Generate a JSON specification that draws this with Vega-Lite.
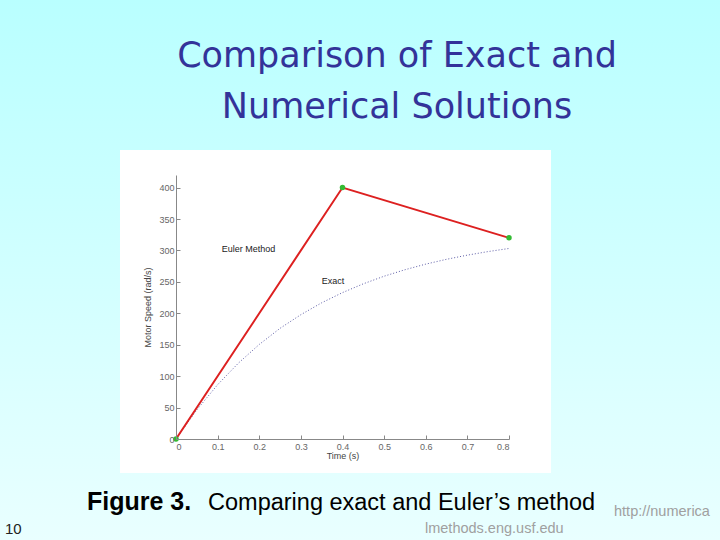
{
  "$schema": "https://vega.github.io/schema/vega-lite/v6.json",
  "width": 333,
  "height": 264,
  "autosize": "none",
  "padding": {"left": 176, "top": 175, "right": 211, "bottom": 101},
  "background": "#d8ffff",
  "config": {"view": {"stroke": null}},
  "datasets": {
    "one": [{}],
    "euler": [
      {"t": 0, "speed": 0},
      {"t": 0.4, "speed": 400},
      {"t": 0.8, "speed": 320}
    ],
    "exact": [
      {"t": 0, "speed": 0},
      {"t": 0.05, "speed": 46.4},
      {"t": 0.1, "speed": 86.4},
      {"t": 0.15, "speed": 120.8},
      {"t": 0.2, "speed": 150.4},
      {"t": 0.25, "speed": 176.1},
      {"t": 0.3, "speed": 197.8},
      {"t": 0.35, "speed": 216.7},
      {"t": 0.4, "speed": 232.9},
      {"t": 0.45, "speed": 246.9},
      {"t": 0.5, "speed": 259.0},
      {"t": 0.55, "speed": 269.3},
      {"t": 0.6, "speed": 278.2},
      {"t": 0.65, "speed": 285.9},
      {"t": 0.7, "speed": 292.5},
      {"t": 0.75, "speed": 298.2},
      {"t": 0.8, "speed": 303.1}
    ]
  },
  "data": {"name": "one"},
  "layer": [
    {
      "mark": {
        "type": "rect",
        "color": {
          "gradient": "linear",
          "x1": 0, "y1": 0, "x2": 0, "y2": 1,
          "stops": [
            {"offset": 0, "color": "#b9ffff"},
            {"offset": 1, "color": "#e9ffff"}
          ]
        }
      },
      "encoding": {
        "x": {
          "datum": -0.4228, "type": "quantitative",
          "scale": {"domain": [0, 0.8], "nice": false, "zero": false},
          "axis": {
            "values": [0, 0.1, 0.2, 0.3, 0.4, 0.5, 0.6, 0.7, 0.8],
            "format": "~g",
            "title": "Time (s)",
            "grid": false,
            "zindex": 1,
            "labelOverlap": false,
            "domainColor": "#888888",
            "tickColor": "#888888",
            "tickSize": -4,
            "labelPadding": 7,
            "labelColor": "#666666",
            "labelFont": "Liberation Sans",
            "labelFontSize": 9,
            "titleFont": "Liberation Sans",
            "titleFontSize": 9,
            "titleFontWeight": "normal",
            "titleColor": "#444444",
            "titlePadding": 0
          }
        },
        "x2": {"datum": 1.3069},
        "y": {
          "datum": 698.4, "type": "quantitative",
          "scale": {"domain": [0, 420], "nice": false},
          "axis": {
            "values": [0, 50, 100, 150, 200, 250, 300, 350, 400],
            "tickCount": 9,
            "title": "Motor Speed (rad/s)",
            "grid": false,
            "zindex": 1,
            "labelOverlap": false,
            "domainColor": "#888888",
            "tickColor": "#888888",
            "tickSize": -4,
            "labelPadding": 6,
            "labelColor": "#666666",
            "labelFont": "Liberation Sans",
            "labelFontSize": 9,
            "titleFont": "Liberation Sans",
            "titleFontSize": 9,
            "titleFontWeight": "normal",
            "titleColor": "#444444",
            "titlePadding": 6
          }
        },
        "y2": {"datum": -160.7}
      }
    },
    {
      "mark": {"type": "rect", "color": "#ffffff"},
      "encoding": {
        "x": {"datum": -0.1345, "type": "quantitative"},
        "x2": {"datum": 0.9009},
        "y": {"datum": 459.8, "type": "quantitative"},
        "y2": {"datum": -54.1}
      }
    },
    {
      "data": {"name": "exact"},
      "mark": {"type": "line", "color": "#5c5ca6", "strokeWidth": 1, "strokeDash": [1, 2]},
      "encoding": {
        "x": {"field": "t", "type": "quantitative"},
        "y": {"field": "speed", "type": "quantitative"}
      }
    },
    {
      "data": {"name": "euler"},
      "mark": {"type": "line", "color": "#dd2020", "strokeWidth": 2},
      "encoding": {
        "x": {"field": "t", "type": "quantitative"},
        "y": {"field": "speed", "type": "quantitative"}
      }
    },
    {
      "data": {"name": "euler"},
      "mark": {"type": "point", "filled": true, "shape": "circle", "size": 30, "color": "#33bb33", "opacity": 1},
      "encoding": {
        "x": {"field": "t", "type": "quantitative"},
        "y": {"field": "speed", "type": "quantitative"}
      }
    },
    {
      "mark": {"type": "text", "text": "Euler Method", "align": "left", "baseline": "middle", "font": "Liberation Sans", "fontSize": 9, "color": "#222222"},
      "encoding": {
        "x": {"datum": 0.11, "type": "quantitative"},
        "y": {"datum": 302, "type": "quantitative"}
      }
    },
    {
      "mark": {"type": "text", "text": "Exact", "align": "left", "baseline": "middle", "font": "Liberation Sans", "fontSize": 9, "color": "#222222"},
      "encoding": {
        "x": {"datum": 0.35, "type": "quantitative"},
        "y": {"datum": 251, "type": "quantitative"}
      }
    },
    {
      "mark": {"type": "text", "text": "Comparison of Exact and", "align": "center", "baseline": "alphabetic", "font": "DejaVu Sans", "fontSize": 35, "color": "#333399"},
      "encoding": {
        "x": {"datum": 0.531, "type": "quantitative"},
        "y": {"datum": 591.8, "type": "quantitative"}
      }
    },
    {
      "mark": {"type": "text", "text": "Numerical Solutions", "align": "center", "baseline": "alphabetic", "font": "DejaVu Sans", "fontSize": 35, "color": "#333399"},
      "encoding": {
        "x": {"datum": 0.531, "type": "quantitative"},
        "y": {"datum": 510.7, "type": "quantitative"}
      }
    },
    {
      "mark": {"type": "text", "text": "Figure 3.", "align": "left", "baseline": "alphabetic", "font": "Liberation Sans", "fontSize": 25, "fontWeight": "bold", "color": "#000000"},
      "encoding": {
        "x": {"datum": -0.2138, "type": "quantitative"},
        "y": {"datum": -113, "type": "quantitative"}
      }
    },
    {
      "mark": {"type": "text", "text": "Comparing exact and Euler’s method", "align": "left", "baseline": "alphabetic", "font": "Liberation Sans", "fontSize": 23.5, "color": "#000000"},
      "encoding": {
        "x": {"datum": 0.0769, "type": "quantitative"},
        "y": {"datum": -113, "type": "quantitative"}
      }
    },
    {
      "mark": {"type": "text", "text": "10", "align": "left", "baseline": "alphabetic", "font": "Liberation Sans", "fontSize": 15, "color": "#222222"},
      "encoding": {
        "x": {"datum": -0.4108, "type": "quantitative"},
        "y": {"datum": -151, "type": "quantitative"}
      }
    },
    {
      "mark": {"type": "text", "text": "http://numerica", "align": "left", "baseline": "alphabetic", "font": "Liberation Sans", "fontSize": 14.5, "color": "#a0a0a0"},
      "encoding": {
        "x": {"datum": 1.0523, "type": "quantitative"},
        "y": {"datum": -122.5, "type": "quantitative"}
      }
    },
    {
      "mark": {"type": "text", "text": "lmethods.eng.usf.edu", "align": "left", "baseline": "alphabetic", "font": "Liberation Sans", "fontSize": 14.5, "color": "#a0a0a0"},
      "encoding": {
        "x": {"datum": 0.5982, "type": "quantitative"},
        "y": {"datum": -149.5, "type": "quantitative"}
      }
    }
  ]
}
